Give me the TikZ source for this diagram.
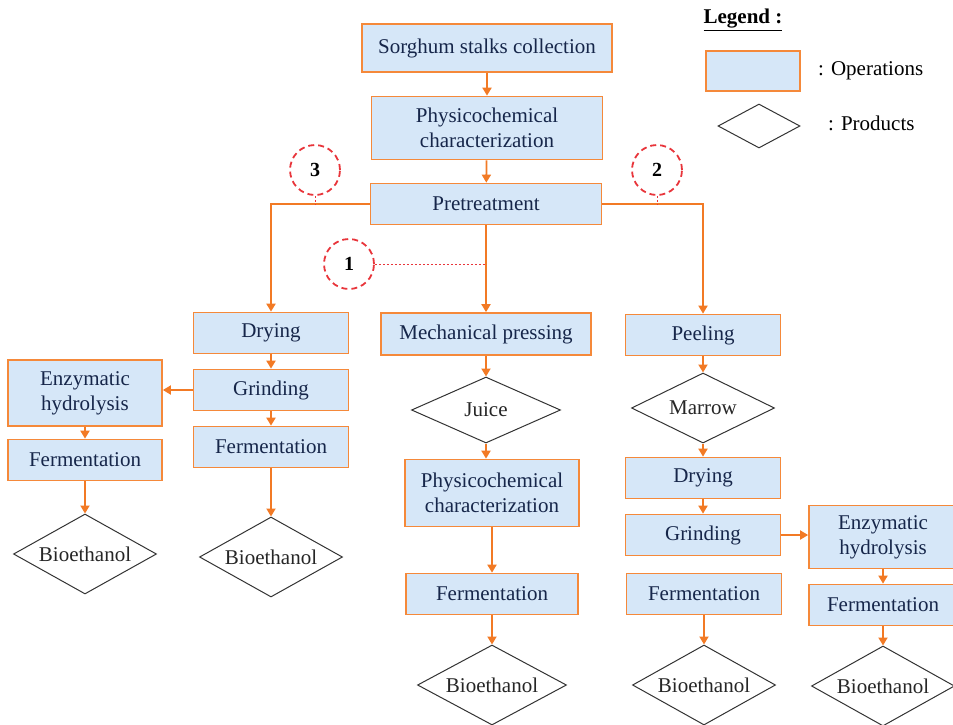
\documentclass[tikz,border=0pt]{standalone}
\usepackage{fontspec}
\setmainfont{Liberation Serif}
\usetikzlibrary{arrows.meta,shapes.geometric}
\definecolor{Edge}{HTML}{F5893A}
\definecolor{Flow}{HTML}{F27A25}
\definecolor{Sky}{HTML}{D6E7F8}
\definecolor{Ink}{HTML}{16264A}
\definecolor{Tag}{HTML}{E8353B}
\tikzset{
  opbox/.style={draw=Edge,fill=Sky,line width=1.7pt,text=Ink,align=center,minimum height=41pt,inner sep=2pt,font=\fontsize{21}{25}\selectfont},
  prod/.style={diamond,aspect=1.8,draw=black!80,fill=white,line width=1pt,inner sep=0pt,minimum width=143pt,minimum height=80pt,text=black!85,font=\fontsize{21}{25}\selectfont},
  flow/.style={-{Triangle[length=8pt,width=9pt]},draw=Flow,line width=1.8pt},
  tag/.style={circle,draw=Tag,dash pattern=on 6pt off 4pt,line width=1.8pt,minimum size=50pt,inner sep=0pt,font=\bfseries\fontsize{20}{24}\selectfont},
  tagline/.style={draw=Tag,line width=.8pt,dash pattern=on 2.5pt off 1.5pt},
  legtext/.style={anchor=west,inner sep=0pt,font=\fontsize{21}{25}\selectfont}
}
\begin{document}
\begin{tikzpicture}[x=1pt,y=-1pt]
  \useasboundingbox (0,0) rectangle (953,724);
  % main trunk
  \node[opbox,minimum width=250pt,minimum height=48pt] (coll) at (487,48) {Sorghum stalks collection};
  \node[opbox,minimum width=231pt,minimum height=63pt] (phys1) at (487,128) {Physicochemical\\characterization};
  \node[opbox,minimum width=231pt] (pre) at (486,204) {Pretreatment};
  % route 3
  \node[opbox,minimum width=155pt] (dry1) at (271,333) {Drying};
  \node[opbox,minimum width=155pt] (grind1) at (271,390) {Grinding};
  \node[opbox,minimum width=155pt] (ferm1) at (271,447) {Fermentation};
  \node[prod] (bio1) at (271,557) {Bioethanol};
  \node[opbox,minimum width=154pt,minimum height=66pt] (enz1) at (85,393) {Enzymatic\\hydrolysis};
  \node[opbox,minimum width=154pt] (ferm0) at (85,460) {Fermentation};
  \node[prod] (bio0) at (85,554) {Bioethanol};
  % route 1
  \node[opbox,minimum width=210pt,minimum height=42pt] (press) at (486,334) {Mechanical pressing};
  \node[prod,minimum width=149pt,minimum height=66pt] (juice) at (486,410) {Juice};
  \node[opbox,minimum width=174pt,minimum height=67pt] (phys2) at (492,493) {Physicochemical\\characterization};
  \node[opbox,minimum width=172pt] (ferm2) at (492,594) {Fermentation};
  \node[prod,minimum width=149pt] (bio2) at (492,685) {Bioethanol};
  % route 2
  \node[opbox,minimum width=155pt] (peel) at (703,335) {Peeling};
  \node[prod,minimum height=70pt] (marrow) at (703,408) {Marrow};
  \node[opbox,minimum width=155pt] (dry2) at (703,478) {Drying};
  \node[opbox,minimum width=155pt] (grind2) at (703,535) {Grinding};
  \node[opbox,minimum width=155pt] (ferm3) at (704,594) {Fermentation};
  \node[prod] (bio3) at (704,685) {Bioethanol};
  \node[opbox,minimum width=148pt,minimum height=63pt] (enz2) at (883,537) {Enzymatic\\hydrolysis};
  \node[opbox,minimum width=148pt] (ferm4) at (883,605) {Fermentation};
  \node[prod] (bio4) at (883,686) {Bioethanol};
  % route tags
  \node[tag] (t3) at (315,170) {3};
  \node[tag] (t2) at (657,170) {2};
  \node[tag] (t1) at (349,264) {1};
  % legend
  \node[inner sep=0pt,font=\bfseries\fontsize{21}{25}\selectfont] (leg) at (743,20) {\underline{Legend :}};
  \node[opbox,minimum width=94pt,minimum height=40pt] (legop) at (753,71) {};
  \node[legtext] (legoptxt) at (818,71) {: Operations};
  \node[prod,minimum width=82pt,minimum height=44pt] (legpr) at (759,126) {};
  \node[legtext] (legprtxt) at (828,123) {: Products};
  % connectors
  \draw[flow] (coll) -- (phys1);
  \draw[flow] (phys1) -- (pre);
  \draw[flow] (pre.west) -| (dry1.north);
  \draw[flow] (pre.east) -| (peel.north);
  \draw[flow] (pre) -- (press);
  \draw[tagline] (t3.south) -- (t3.south |- pre.west);
  \draw[tagline] (t2.south) -- (t2.south |- pre.east);
  \draw[tagline] (t1.east) -- (t1.east -| pre.south);
  \draw[flow] (dry1) -- (grind1);
  \draw[flow] (grind1) -- (ferm1);
  \draw[flow] (ferm1) -- (bio1);
  \draw[flow] (grind1.west) -- (grind1.west -| enz1.east);
  \draw[flow] (enz1) -- (ferm0);
  \draw[flow] (ferm0) -- (bio0);
  \draw[flow] (press) -- (juice);
  \draw[flow] (juice.south) -- (juice.south |- phys2.north);
  \draw[flow] (phys2) -- (ferm2);
  \draw[flow] (ferm2) -- (bio2);
  \draw[flow] (peel) -- (marrow);
  \draw[flow] (marrow) -- (dry2);
  \draw[flow] (dry2) -- (grind2);
  \draw[flow] (grind2.east) -- (grind2.east -| enz2.west);
  \draw[flow] (enz2) -- (ferm4);
  \draw[flow] (ferm4) -- (bio4);
  \draw[flow] (ferm3) -- (bio3);
\end{tikzpicture}
\end{document}
